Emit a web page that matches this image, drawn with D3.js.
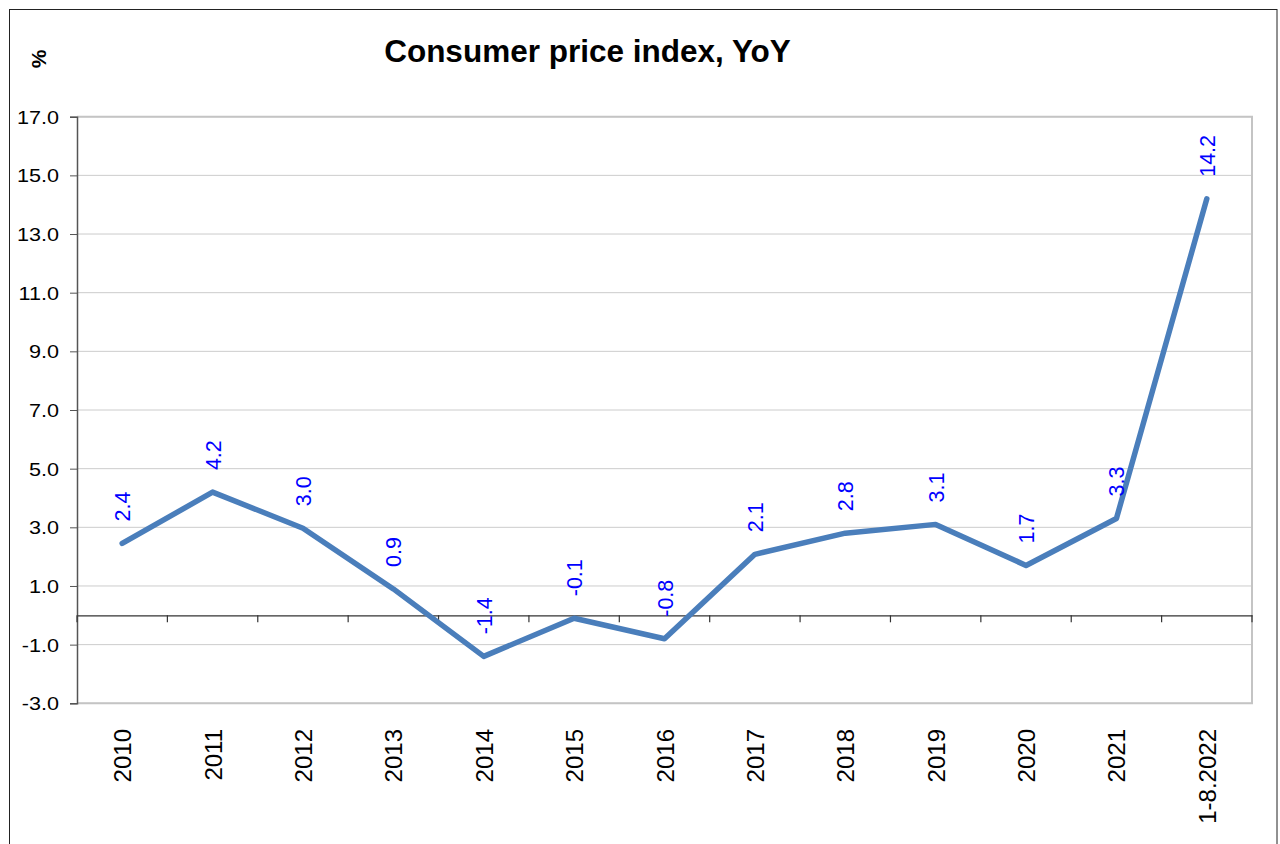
<!DOCTYPE html>
<html>
<head>
<meta charset="utf-8">
<script src="https://cdn.jsdelivr.net/npm/d3@7"></script>
<style>
  html, body { margin: 0; padding: 0; background: #fff; }
  svg { display: block; font-family: "Liberation Sans", Arial, sans-serif; }
</style>
</head>
<body>
<svg id="chart" width="1280" height="844"></svg>
<script>
const categories = ["2010","2011","2012","2013","2014","2015","2016","2017","2018","2019","2020","2021","1-8.2022"];
const values = [2.45, 4.2, 2.97, 0.9, -1.4, -0.1, -0.8, 2.08, 2.8, 3.1, 1.7, 3.3, 14.2];
const valueLabels = ["2.4","4.2","3.0","0.9","-1.4","-0.1","-0.8","2.1","2.8","3.1","1.7","3.3","14.2"];
const yTicks = [-3, -1, 1, 3, 5, 7, 9, 11, 13, 15, 17];
const yTickLabels = ["-3.0","-1.0","1.0","3.0","5.0","7.0","9.0","11.0","13.0","15.0","17.0"];
const titleText = "Consumer price index, YoY";
const unitText = "%";

const svg = d3.select("#chart");
const L = 77, R = 1252, T = 116.7, B = 703.3;

// outer frame
svg.append("rect").attr("x", 9.5).attr("y", 9.5).attr("width", 1267.5).attr("height", 900)
  .attr("fill", "none").attr("stroke", "#222").attr("stroke-width", 1);

const x = d3.scaleBand().domain(categories).range([L, R]).paddingInner(0).paddingOuter(0);
const y = d3.scaleLinear().domain([-3, 17]).range([B, T]);

// gridlines
svg.append("g").selectAll("line").data(yTicks).join("line")
  .attr("x1", L).attr("x2", R)
  .attr("y1", d => y(d)).attr("y2", d => y(d))
  .attr("stroke", "#cccccc").attr("stroke-width", 1);

// plot border (top, right, bottom)
svg.append("path")
  .attr("d", `M${L},${y(17)}H${R}V${y(-3)}H${L}`)
  .attr("fill", "none").attr("stroke", "#c4c4c4").attr("stroke-width", 2);

// y axis
const yAxis = d3.axisLeft(y).tickValues(yTicks).tickSize(7).tickFormat("");
const yg = svg.append("g").attr("transform", `translate(${L},0)`).call(yAxis);
yg.select(".domain").attr("stroke", "#555").attr("stroke-width", 1.5);
yg.selectAll(".tick line").attr("stroke", "#555");
yg.selectAll(".tick text").remove();
yg.selectAll(".tick").append("text")
  .attr("transform", "translate(-18,6.5) scale(1.2,1)")
  .attr("text-anchor", "end")
  .attr("fill", "#000")
  .style("font-size", "18px")
  .text((d, i) => yTickLabels[yTicks.indexOf(d)]);

// zero axis with ticks at band boundaries
const xAxis = d3.axisBottom(x).tickSize(0).tickFormat("");
const xg = svg.append("g").attr("transform", `translate(0,${y(0)})`).call(xAxis);
xg.select(".domain").attr("stroke", "#333").attr("stroke-width", 1.3);
const bounds = d3.range(categories.length + 1).map(i => L + i * x.step());
xg.append("g").selectAll("line").data(bounds).join("line")
  .attr("x1", d => d).attr("x2", d => d).attr("y1", 0).attr("y2", 7)
  .attr("stroke", "#333").attr("stroke-width", 1.2);

// category labels (rotated)
svg.append("g").selectAll("text").data(categories).join("text")
  .attr("transform", d => `translate(${x(d) + x.bandwidth() / 2 + 9},729) rotate(-90)`)
  .attr("text-anchor", "end")
  .attr("fill", "#000")
  .style("font-size", "24px")
  .text(d => d);

// line
const line = d3.line()
  .x((d, i) => x(categories[i]) + x.bandwidth() / 2)
  .y(d => y(d));
svg.append("path").datum(values)
  .attr("d", line)
  .attr("fill", "none")
  .attr("stroke", "#4a7ebb")
  .attr("stroke-width", 5.5)
  .attr("stroke-linejoin", "round")
  .attr("stroke-linecap", "round");

// data labels
svg.append("g").selectAll("text").data(values).join("text")
  .attr("transform", (d, i) => `translate(${x(categories[i]) + x.bandwidth() / 2 + 8},${y(d) - 22}) rotate(-90)`)
  .attr("text-anchor", "start")
  .attr("fill", "#0000ff")
  .style("font-size", "21.5px")
  .text((d, i) => valueLabels[i]);

// title
svg.append("text")
  .attr("x", 587.5).attr("y", 61.5)
  .attr("text-anchor", "middle")
  .style("font-size", "31.5px").style("font-weight", "bold")
  .attr("fill", "#000")
  .text(titleText);

// unit
svg.append("text")
  .attr("transform", "translate(46,59) rotate(-90)")
  .attr("text-anchor", "middle")
  .style("font-size", "21px").style("font-weight", "bold")
  .attr("fill", "#000")
  .text(unitText);
</script>
</body>
</html>
